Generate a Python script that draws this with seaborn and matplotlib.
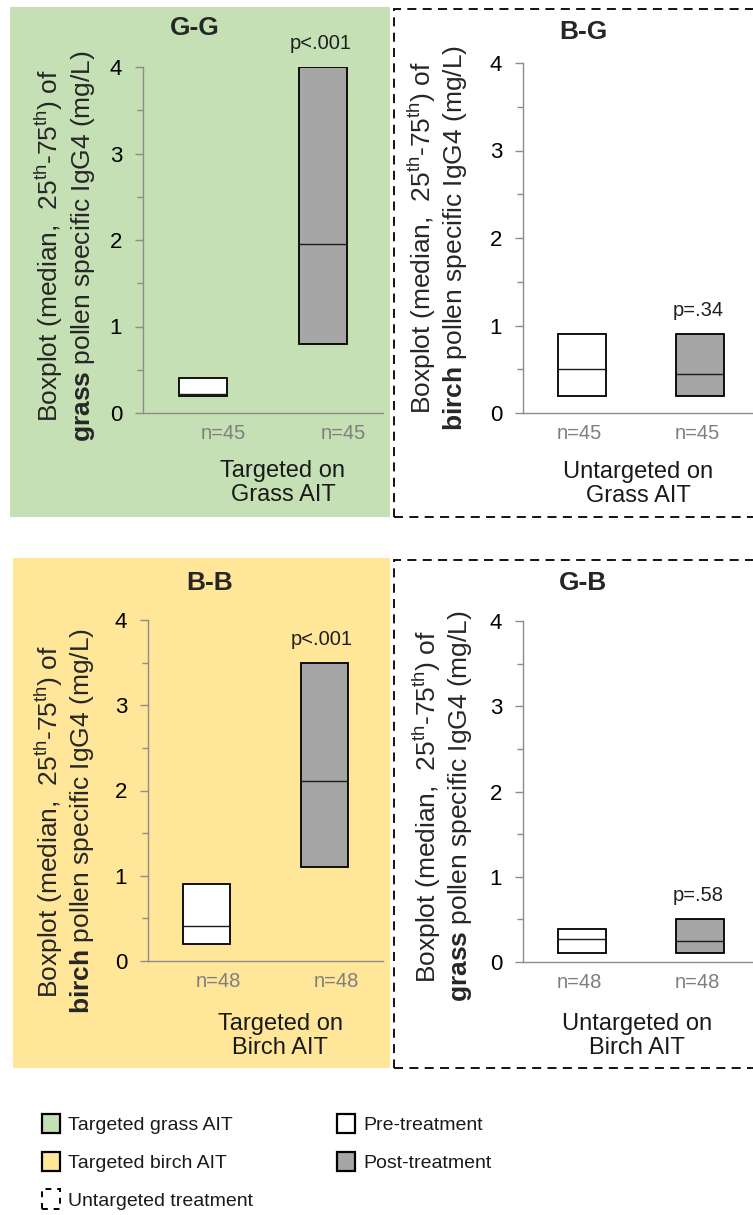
import numpy as np
import pandas as pd
import matplotlib
matplotlib.use("Agg")
import matplotlib.pyplot as plt
import seaborn as sns
from matplotlib.patches import Rectangle, Patch
from matplotlib.ticker import MultipleLocator
from matplotlib import font_manager

# ---------------- data ----------------
panel_titles = ["G-G", "B-G", "B-B", "G-B"]
times = ["Pre-treatment", "Post-treatment"]
q25 = [[0.20, 0.80], [0.20, 0.20], [0.20, 1.10], [0.10, 0.10]]
medians = [[0.22, 1.95], [0.50, 0.45], [0.41, 2.11], [0.27, 0.25]]
q75 = [[0.40, 4.00], [0.90, 0.90], [0.90, 3.50], [0.39, 0.50]]
n_labels = [["n=45", "n=45"], ["n=45", "n=45"], ["n=48", "n=48"], ["n=48", "n=48"]]
p_labels = ["p<.001", "p=.34", "p<.001", "p=.58"]
allergen = ["grass", "birch", "birch", "grass"]
group_labels = ["Targeted on\nGrass AIT", "Untargeted on\nGrass AIT",
                "Targeted on\nBirch AIT", "Untargeted on\nBirch AIT"]
legend_labels = ["Targeted grass AIT", "Targeted birch AIT", "Untargeted treatment",
                 "Pre-treatment", "Post-treatment"]

# ---------------- style ----------------
GREEN = "#C5E0B4"
YELLOW = "#FFE699"
POST_GRAY = "#A6A6A6"
AXIS_GRAY = "#8C8C8C"

sns.set_style("ticks")
plt.rcParams["font.family"] = ["Liberation Sans", "DejaVu Sans"]
plt.rcParams["mathtext.fontset"] = "custom"
plt.rcParams["mathtext.rm"] = "Liberation Sans"
plt.rcParams["mathtext.bf"] = "Liberation Sans:bold"
plt.rcParams["mathtext.it"] = "Liberation Sans:italic"

names = {f.name for f in font_manager.fontManager.ttflist}
narrow = "Liberation Sans Narrow" in names
legend_family = ["Liberation Sans Narrow", "Liberation Sans"] if narrow else ["Liberation Sans"]

W, H = 753, 1215
fig = plt.figure(figsize=(W / 100, H / 100), dpi=100)
fig.patch.set_facecolor("white")


def fig_rect(l, t, r, b):
    return [l / W, 1 - b / H, (r - l) / W, (b - t) / H]


# panel layout in pixels (left, top, right, bottom) of the plotting area
axes_px = [(143, 67, 383, 413), (523, 63, 759, 413), (148, 620, 383, 961), (523, 621, 759, 962)]
title_pos = [(0.217, 1.113), (0.254, 1.089), (0.264, 1.108), (0.254, 1.111)]
ylabel_pos = [(-0.325, 0.483), (-0.362, 0.50), (-0.357, 0.41), (-0.343, 0.457)]
xlabel_pos = [(0.583, -0.202), (0.487, -0.203), (0.562, -0.221), (0.483, -0.218)]
n_offset = [0.17, -0.02, 0.10, -0.02]

# backgrounds
fig.patches.append(Rectangle((10 / W, 1 - 517 / H), 380 / W, 510 / H, transform=fig.transFigure,
                             facecolor=GREEN, edgecolor="none", zorder=-10))
fig.patches.append(Rectangle((13 / W, 1 - 1068 / H), 377 / W, 510 / H, transform=fig.transFigure,
                             facecolor=YELLOW, edgecolor="none", zorder=-10))
for (l, t, r, b) in [(394, 9, 770, 517), (394, 560, 770, 1068)]:
    fig.patches.append(Rectangle((l / W, 1 - b / H), (r - l) / W, (b - t) / H, transform=fig.transFigure,
                                 facecolor="none", edgecolor="black", lw=1.3,
                                 linestyle=(0, (5, 3.5)), zorder=-5))

palette = {"Pre-treatment": "white", "Post-treatment": POST_GRAY}

for i in range(4):
    ax = fig.add_axes(fig_rect(*axes_px[i]))
    ax.patch.set_alpha(0)
    rows = []
    for j, t in enumerate(times):
        # five-number sample whose quartiles are the read values (no whiskers)
        for v in [q25[i][j], q25[i][j], medians[i][j], q75[i][j], q75[i][j]]:
            rows.append({"time": t, "value": v})
    df = pd.DataFrame(rows)
    sns.boxplot(data=df, x="time", y="value", hue="time", palette=palette, order=times,
                hue_order=times, width=0.4, linecolor="black", linewidth=1.3,
                showcaps=False, whiskerprops={"linewidth": 0}, showfliers=False,
                medianprops={"linewidth": 1.0, "color": "#1a1a1a"},
                legend=False, ax=ax)
    ax.set_xlim(-0.5, 1.5)
    ax.set_ylim(0, 4)
    ax.yaxis.set_major_locator(MultipleLocator(1))
    ax.yaxis.set_minor_locator(MultipleLocator(0.5))
    ax.tick_params(axis="y", which="major", length=6, width=1, color=AXIS_GRAY,
                   labelsize=16, pad=9, labelcolor="black")
    ax.tick_params(axis="y", which="minor", length=4, width=1, color=AXIS_GRAY)
    ax.set_xticks([])
    for s in ["top", "right"]:
        ax.spines[s].set_visible(False)
    for s in ["left", "bottom"]:
        ax.spines[s].set_color(AXIS_GRAY)
        ax.spines[s].set_linewidth(1.0)

    # axis labels
    ylab = (r"Boxplot (median,  25$^{\mathrm{th}}$-75$^{\mathrm{th}}$) of" + "\n"
            + r"$\mathbf{" + allergen[i] + r"}$ pollen specific IgG4 (mg/L)")
    ax.set_ylabel(ylab, fontsize=19, linespacing=1.15, va="center", ha="center")
    ax.yaxis.set_label_coords(*ylabel_pos[i])
    ax.set_xlabel(group_labels[i], fontsize=17, linespacing=1.12, va="center", ha="center",
                  color="#1a1a1a")
    ax.xaxis.set_label_coords(*xlabel_pos[i])

    # title
    ax.text(*title_pos[i], panel_titles[i], transform=ax.transAxes, ha="center", va="center",
            fontsize=19, fontweight="bold")

    # n labels
    for j in range(2):
        ax.annotate(n_labels[i][j], xy=(j + n_offset[i], 0), xycoords=("data", "axes fraction"),
                    xytext=(0, -14.5), textcoords="offset points", ha="center", va="center",
                    fontsize=14.5, color="#7F7F7F", annotation_clip=False)

    # p value above post box
    ax.annotate(p_labels[i], xy=(1, q75[i][1]), xytext=(-1.5, 17), textcoords="offset points",
                ha="center", va="center", fontsize=14.5, color="#1f1f1f", annotation_clip=False)

# legend
handles = [
    Patch(facecolor=GREEN, edgecolor="black", linewidth=1.6),
    Patch(facecolor=YELLOW, edgecolor="black", linewidth=1.6),
    Patch(facecolor="none", edgecolor="black", linewidth=1.4, linestyle=(0, (3, 3))),
    Patch(facecolor="white", edgecolor="black", linewidth=1.6),
    Patch(facecolor=POST_GRAY, edgecolor="black", linewidth=1.6),
]
leg_fs = 15 if narrow else 14
colsp = 5.6 if narrow else 4.3
leg = fig.legend(handles=handles, labels=legend_labels, ncol=2, loc="upper left",
                 bbox_to_anchor=(42 / W, 1 - 1114 / H), frameon=False,
                 prop={"family": legend_family, "size": leg_fs},
                 handlelength=0.95, handleheight=1.15, handletextpad=0.4,
                 labelspacing=0.9, columnspacing=colsp, borderpad=0, borderaxespad=0)
for txt in leg.get_texts():
    txt.set_color("#1a1a1a")

fig.savefig("out.png", dpi=100)
